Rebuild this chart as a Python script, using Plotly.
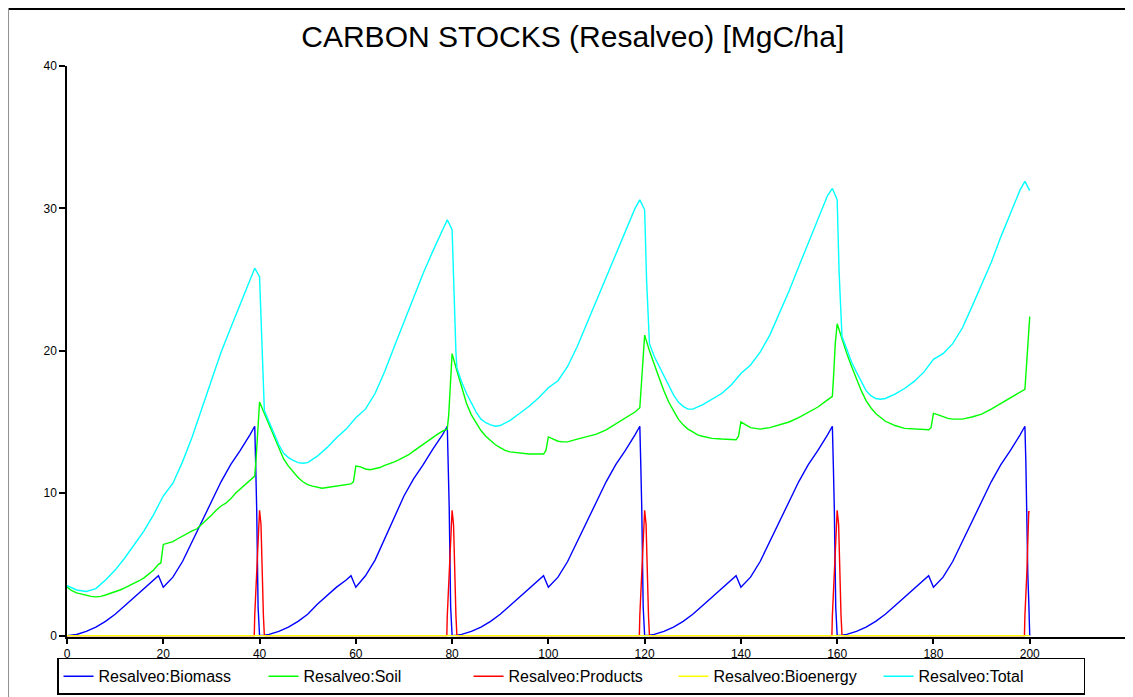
import plotly.graph_objects as go

# --- data (years, MgC/ha) ---
biomass_t = [
    0, 2, 4, 6, 8, 10, 12, 14, 16, 18, 19, 20, 22, 24, 26, 28, 30, 32, 34, 36, 38, 39, 39.2, 39.4, 39.7, 40,
    41, 42, 44, 46, 48, 50, 52, 54, 56, 58, 59, 60, 62, 64, 66, 68, 70, 72, 74, 76, 78, 79, 79.2, 79.4, 79.7, 80,
    81, 82, 84, 86, 88, 90, 92, 94, 96, 98, 99, 100, 102, 104, 106, 108, 110, 112, 114, 116, 118, 119, 119.2, 119.4, 119.7, 120,
    121, 122, 124, 126, 128, 130, 132, 134, 136, 138, 139, 140, 142, 144, 146, 148, 150, 152, 154, 156, 158, 159, 159.2, 159.4, 159.7, 160,
    161, 162, 164, 166, 168, 170, 172, 174, 176, 178, 179, 180, 182, 184, 186, 188, 190, 192, 194, 196, 198, 199, 199.2, 199.4, 199.6, 199.8, 200,
]
biomass_v = [
    0, 0.08, 0.3, 0.6, 1.0, 1.5, 2.1, 2.7, 3.3, 3.9, 4.2, 3.4, 4.1, 5.2, 6.6, 8.1, 9.5, 10.8, 12.0, 13.0, 14.1, 14.7, 12.0, 9.0, 2.0, 0,
    0.02, 0.08, 0.3, 0.6, 1.0, 1.5, 2.2, 2.8, 3.4, 3.9, 4.2, 3.4, 4.2, 5.3, 6.8, 8.4, 9.8, 11.0, 12.0, 13.1, 14.1, 14.7, 12.0, 9.0, 2.0, 0,
    0.02, 0.08, 0.3, 0.6, 1.0, 1.5, 2.1, 2.7, 3.3, 3.9, 4.2, 3.4, 4.1, 5.2, 6.6, 8.1, 9.5, 10.8, 12.0, 13.0, 14.1, 14.7, 12.0, 9.0, 2.0, 0,
    0.02, 0.08, 0.3, 0.6, 1.0, 1.5, 2.1, 2.7, 3.3, 3.9, 4.2, 3.4, 4.1, 5.2, 6.6, 8.1, 9.5, 10.8, 12.0, 13.0, 14.1, 14.7, 12.0, 9.0, 2.0, 0,
    0.02, 0.08, 0.3, 0.6, 1.0, 1.5, 2.1, 2.7, 3.3, 3.9, 4.2, 3.4, 4.1, 5.2, 6.6, 8.1, 9.5, 10.8, 12.0, 13.0, 14.1, 14.7, 12.1, 7.4, 4.4, 2.4, 0,
]

soil_t = [
    0, 1, 2, 3, 4, 5, 6, 7, 8, 9, 10, 11, 12, 13, 14, 15, 16, 17, 18, 19, 19.5, 20, 21, 22, 23, 24, 25, 26, 27, 28, 29,
    30, 31, 32, 33, 34, 35, 36, 37, 38, 39, 39.3, 39.7, 40,
    41, 42, 43, 44, 45, 46, 47, 48, 49, 50, 51, 52, 53, 54, 56, 58, 59, 59.5, 60, 61, 62, 63, 64, 65, 66, 67, 68, 69,
    70, 71, 72, 73, 74, 75, 76, 77, 78, 79, 79.3, 79.6, 80,
    81, 82, 83, 84, 85, 86, 87, 88, 89, 90, 91, 92, 94, 96, 99, 99.5, 100, 101, 102, 103, 104, 106, 108,
    110, 112, 114, 116, 118, 119, 119.3, 119.6, 120,
    121, 122, 123, 124, 125, 126, 127, 128, 129, 130, 131, 132, 134, 136, 139, 139.5, 140, 141, 142, 143, 144, 146, 148,
    150, 152, 154, 156, 158, 159, 159.3, 159.6, 160,
    161, 162, 163, 164, 165, 166, 167, 168, 169, 170, 171, 172, 174, 176, 179, 179.5, 180, 181, 182, 183, 184, 186, 188,
    190, 192, 194, 196, 198, 199, 199.3, 199.6, 200,
]
soil_v = [
    3.4, 3.15, 3.0, 2.9, 2.8, 2.75, 2.72, 2.75, 2.85, 2.95, 3.05, 3.2, 3.35, 3.5, 3.7, 3.85, 4.05, 4.3, 4.6, 5.0, 5.1, 6.4, 6.5, 6.6, 6.8, 7.0, 7.2, 7.35, 7.5, 7.8, 8.1,
    8.45, 8.8, 9.1, 9.3, 9.6, 10.0, 10.3, 10.6, 10.9, 11.2, 12.5, 15.0, 16.4,
    15.6, 14.8, 14.0, 13.1, 12.4, 11.9, 11.5, 11.1, 10.8, 10.6, 10.5, 10.4, 10.35, 10.4, 10.5, 10.6, 10.65, 10.8, 11.9, 11.85, 11.7, 11.65, 11.7, 11.8, 11.95, 12.05, 12.2, 12.35,
    12.5, 12.7, 12.95, 13.2, 13.45, 13.7, 13.9, 14.15, 14.35, 14.5, 15.5, 17.5, 19.8,
    18.6, 17.5, 16.3, 15.5, 14.9, 14.4, 14.0, 13.7, 13.4, 13.2, 13.0, 12.9, 12.8, 12.75, 12.75, 13.0, 13.95, 13.8, 13.65, 13.6, 13.6, 13.8, 13.95,
    14.15, 14.45, 14.85, 15.25, 15.7, 16.0, 17.5, 19.2, 21.1,
    20.0, 19.0, 18.1, 17.2, 16.4, 15.8, 15.2, 14.8, 14.5, 14.3, 14.1, 14.0, 13.85, 13.8, 13.75, 14.0, 15.0, 14.8, 14.6, 14.55, 14.5, 14.6, 14.8,
    15.0, 15.3, 15.65, 16.05, 16.55, 16.8, 18.5, 20.5, 21.9,
    20.8, 19.8, 18.9, 18.0, 17.2, 16.5, 16.0, 15.6, 15.3, 15.05, 14.9, 14.75, 14.55, 14.5, 14.45, 14.6, 15.6, 15.5, 15.35, 15.25, 15.2, 15.2, 15.35,
    15.55, 15.9, 16.3, 16.75, 17.1, 17.3, 18.8, 20.5, 22.4,
]

products_t = [
    0, 38.9, 39, 39.4, 39.7, 40, 40.3, 40.5, 40.8, 41,
    78.9, 79, 79.4, 79.7, 80, 80.3, 80.5, 80.8, 81,
    118.9, 119, 119.4, 119.7, 120, 120.3, 120.5, 120.8, 121,
    158.9, 159, 159.4, 159.7, 160, 160.3, 160.5, 160.8, 161,
    198.9, 199, 199.4, 199.8, 200,
]
products_v = [
    0, 0, 1.4, 4.4, 7.7, 8.8, 7.8, 4.2, 1.4, 0,
    0, 1.4, 4.4, 7.7, 8.8, 7.8, 4.2, 1.4, 0,
    0, 1.4, 4.4, 7.7, 8.8, 7.8, 4.2, 1.4, 0,
    0, 1.4, 4.4, 7.7, 8.8, 7.8, 4.2, 1.4, 0,
    0, 1.4, 4.4, 8.7, 8.7,
]

bioenergy_t = [0, 200]
bioenergy_v = [0, 0]

total_t = [
    0, 2, 4, 6, 8, 10, 12, 14, 16, 18, 19, 20, 22, 24, 26, 28, 30, 32, 34, 36, 38, 39, 40, 40.4, 40.8,
    41, 42, 43, 44, 45, 46, 47, 48, 49, 50, 52, 54, 56, 58, 60, 62, 64, 66, 68, 70, 72, 74, 76, 78, 79, 80, 80.4, 80.8,
    81, 82, 83, 84, 85, 86, 87, 88, 89, 90, 92, 94, 96, 98, 100, 102, 104, 106, 108, 110, 112, 114, 116, 118, 119, 120, 120.4, 120.8,
    121, 122, 123, 124, 125, 126, 127, 128, 129, 130, 132, 134, 136, 138, 140, 142, 144, 146, 148, 150, 152, 154, 156, 158, 159, 160, 160.4, 160.8,
    161, 162, 163, 164, 165, 166, 167, 168, 169, 170, 172, 174, 176, 178, 180, 182, 184, 186, 188, 190, 192, 194, 196, 198, 199, 200,
]
total_v = [
    3.5, 3.2, 3.1, 3.3, 3.9, 4.6, 5.45, 6.4, 7.35, 8.5, 9.2, 9.8, 10.7, 12.2, 13.95, 15.9, 17.95, 19.9, 21.6, 23.3, 25.0, 25.8, 25.2, 21.0, 17.0,
    15.8, 15.0, 14.2, 13.4, 12.8, 12.5, 12.3, 12.15, 12.1, 12.15, 12.6, 13.2, 13.9, 14.5, 15.3, 15.9, 17.0, 18.55, 20.3, 22.0, 23.8, 25.45, 27.0, 28.45, 29.2, 28.5, 23.5, 19.9,
    18.8, 17.8, 17.0, 16.3, 15.7, 15.2, 14.95, 14.8, 14.7, 14.75, 15.1, 15.6, 16.1, 16.7, 17.4, 17.9, 18.9, 20.3, 21.9, 23.5, 25.2, 26.8, 28.4, 30.0, 30.6, 29.9, 25.0, 21.2,
    20.5, 19.6, 18.9, 18.2, 17.5, 16.9, 16.4, 16.1, 15.9, 15.9, 16.2, 16.6, 17.0, 17.6, 18.4, 19.0, 19.9, 21.1, 22.6, 24.2, 25.9, 27.6, 29.3, 30.9, 31.4, 30.6, 25.5, 21.8,
    21.0, 20.1, 19.2, 18.5, 17.8, 17.2, 16.85, 16.65, 16.6, 16.65, 16.95, 17.35, 17.85, 18.5, 19.4, 19.8, 20.5, 21.6, 23.1, 24.6, 26.2, 28.0, 29.7, 31.3, 31.9, 31.25,
]

series = [
    ("Resalveo:Biomass", biomass_t, biomass_v, "#0000ff"),
    ("Resalveo:Soil", soil_t, soil_v, "#00ff00"),
    ("Resalveo:Products", products_t, products_v, "#ff0000"),
    ("Resalveo:Bioenergy", bioenergy_t, bioenergy_v, "#ffff00"),
    ("Resalveo:Total", total_t, total_v, "#00ffff"),
]

x_ticks = list(range(0, 221, 20))
y_ticks = [0, 10, 20, 30, 40]

fig = go.Figure()
for name, t, v, color in series:
    fig.add_trace(
        go.Scatter(x=t, y=v, name=name, mode="lines",
                   line={"color": color, "width": 1.4})
    )

tick_font = {"family": "Liberation Sans Narrow, Arial Narrow, Liberation Sans, Arial", "size": 12, "color": "black"}

fig.update_xaxes(
    range=[0, 220], tickvals=x_ticks, showline=True, linecolor="black", linewidth=1.5,
    ticks="outside", ticklen=5, tickwidth=1.5, tickcolor="black", showgrid=False,
    zeroline=False, tickfont=tick_font, layer="below traces",
)
fig.update_yaxes(
    range=[-0.1, 40], tickvals=y_ticks, showline=True, linecolor="black", linewidth=1.5,
    ticks="outside", ticklen=6, tickwidth=1.5, tickcolor="black", showgrid=False,
    zeroline=False, tickfont=tick_font,
)

# frame around the chart window (top edge dark, left edge grey)
fig.add_shape(type="line", xref="paper", yref="paper",
              x0=-0.0552, x1=1.1, y0=1.0998, y1=1.0998, line={"color": "black", "width": 2})
fig.add_shape(type="line", xref="paper", yref="paper",
              x0=-0.0552, x1=-0.0552, y0=-0.2, y1=1.0998, line={"color": "#909090", "width": 1})

# the page adds an 8px body margin; the figure runs past the window bottom
fig.update_layout(
    width=1125,
    height=705,
    margin={"l": 59, "r": 7, "t": 58, "b": 76},
    paper_bgcolor="white",
    plot_bgcolor="white",
    title={
        "text": "CARBON STOCKS (Resalveo) [MgC/ha]",
        "x": 0.502, "xref": "container", "xanchor": "center",
        "y": 1 - 28 / 705, "yref": "container", "yanchor": "middle",
        "font": {"family": "Liberation Sans, Arial", "size": 30, "color": "black"},
    },
    legend={
        "orientation": "h", "x": -0.0094, "xanchor": "left", "y": -0.0365, "yanchor": "top",
        "bordercolor": "black", "borderwidth": 1.5, "bgcolor": "white",
        "font": {"family": "Liberation Sans, Arial", "size": 16, "color": "black"},
        "entrywidth": 160, "entrywidthmode": "pixels", "itemwidth": 30,
    },
    showlegend=True,
)

fig.write_html("out.html")
